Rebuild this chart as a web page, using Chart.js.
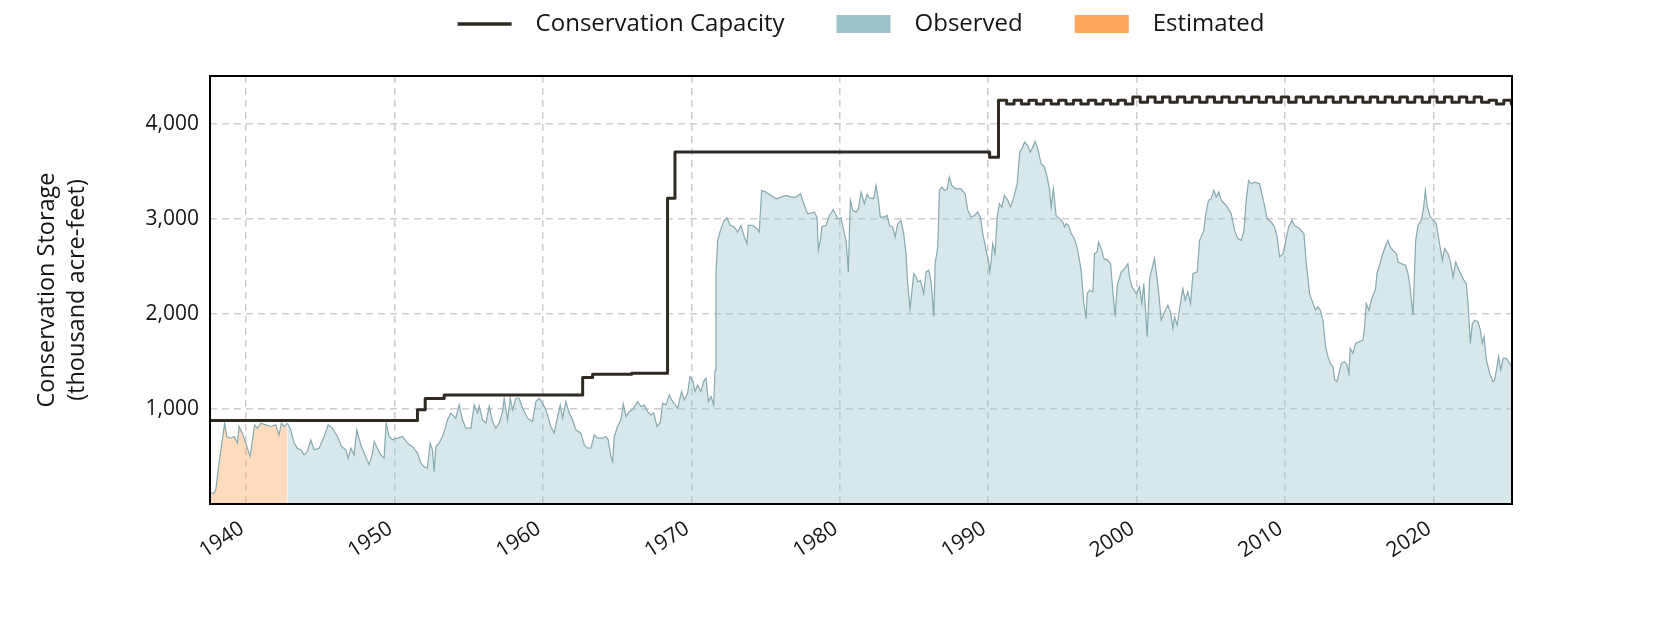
<!DOCTYPE html>
<html><head><meta charset="utf-8">
<script src="https://cdn.jsdelivr.net/npm/chart.js@4.4.1/dist/chart.umd.min.js"></script>
<style>html,body{margin:0;padding:0;background:#fff;}canvas{display:block;}</style>
</head><body>
<canvas id="c" width="1680" height="630"></canvas>
<script>
// ---- data ----
const seriesNames = ['Conservation Capacity', 'Observed', 'Estimated'];
const xTicks = [1940, 1950, 1960, 1970, 1980, 1990, 2000, 2010, 2020];
const yTicks = [1000, 2000, 3000, 4000];

const estYears = [1937.57,1937.84,1937.96,1938.18,1938.40,1938.56,1938.70,1938.97,1939.19,1939.42,1939.53,1939.75,1939.98,1940.27,1940.43,1940.58,1940.76,1940.99,1941.33,1941.66,1942.00,1942.22,1942.38,1942.56,1942.79];
const estValues = [115,115,150,430,675,850,710,692,710,640,815,745,640,500,675,832,797,850,832,815,832,727,850,815,850];

const obsYears = [1942.79,1943.01,1943.24,1943.46,1943.69,1943.91,1944.13,1944.36,1944.58,1944.92,1945.26,1945.53,1945.82,1946.16,1946.43,1946.72,1946.88,1947.06,1947.28,1947.46,1947.73,1947.96,1948.29,1948.52,1948.63,1948.85,1949.08,1949.30,1949.44,1949.64,1949.87,1950.20,1950.54,1950.88,1951.21,1951.55,1951.78,1952.00,
1952.22,1952.40,1952.56,1952.67,1952.79,1953.01,1953.24,1953.39,1953.57,1953.80,1954.13,1954.36,1954.58,1954.81,1955.15,1955.37,1955.60,1955.71,1955.93,1956.16,1956.38,1956.61,1956.83,1957.06,1957.28,1957.39,1957.62,1957.80,1957.96,1958.18,1958.40,1958.63,1958.97,1959.30,1959.53,1959.75,1959.98,1960.20,1960.54,1960.76,1960.99,1961.17,1961.33,1961.55,1961.78,1962.00,1962.22,1962.56,1962.79,1963.01,1963.24,1963.46,1963.69,1964.02,1964.25,1964.40,1964.58,1964.70,1964.81,1965.03,1965.26,1965.42,1965.60,1965.82,1966.04,1966.38,1966.61,1966.83,
1967.06,1967.28,1967.46,1967.69,1967.91,1968.07,1968.29,1968.52,1968.67,1968.85,1969.08,1969.35,1969.53,1969.75,1969.91,1970.09,1970.25,1970.43,1970.65,1970.83,1970.99,1971.15,1971.33,1971.51,1971.60,1971.66,1971.78,1971.96,1972.22,1972.40,1972.63,1972.90,1973.12,1973.35,1973.57,1973.75,1973.84,1974.13,1974.43,1974.58,1974.74,1975.03,1975.37,1975.71,1976.04,1976.38,1976.72,1977.06,1977.35,1977.62,1977.84,1978.29,1978.47,1978.56,1978.70,1978.79,1979.08,1979.30,1979.57,1979.87,1980.09,1980.31,1980.43,1980.58,1980.72,1980.88,1981.10,1981.26,1981.44,1981.66,
1981.84,1982.00,1982.29,1982.45,1982.61,1982.74,1982.97,1983.19,1983.35,1983.57,1983.73,1983.91,1984.13,1984.31,1984.47,1984.58,1984.74,1984.85,1984.99,1985.15,1985.26,1985.44,1985.66,1985.82,1986.00,1986.16,1986.34,1986.43,1986.61,1986.72,1986.88,1987.06,1987.24,1987.39,1987.55,1987.84,1988.18,1988.45,1988.63,1988.85,1989.08,1989.30,1989.48,1989.64,1989.87,1990.02,1990.11,1990.20,1990.31,1990.47,1990.61,1990.76,1990.92,1991.10,1991.33,1991.51,1991.73,1991.96,1992.13,1992.27,1992.45,1992.67,1992.83,1993.01,1993.17,1993.35,1993.57,1993.80,1993.98,1994.13,1994.25,1994.40,1994.58,1994.81,1995.03,1995.15,1995.26,1995.42,1995.60,1995.82,1996.04,1996.27,1996.45,
1996.61,1996.67,1996.83,1997.06,1997.17,1997.35,1997.44,1997.62,1997.80,1998.07,1998.25,1998.40,1998.56,1998.70,1998.97,1999.19,1999.42,1999.53,1999.69,1999.98,2000.20,2000.36,2000.49,2000.72,2000.88,2001.21,2001.48,2001.66,2001.89,2002.11,2002.29,2002.45,2002.56,2002.74,2002.90,2003.12,2003.28,2003.46,2003.64,2003.80,2004.09,2004.25,2004.54,2004.63,2004.85,2005.03,2005.21,2005.37,2005.53,2005.71,2006.04,2006.38,2006.61,2006.83,2007.06,2007.24,2007.39,2007.55,2007.73,2007.96,2008.29,2008.52,2008.81,2009.08,2009.30,2009.48,2009.64,2009.87,2010.09,2010.25,2010.47,2010.65,2010.99,2011.28,
2011.44,2011.66,2011.89,2012.07,2012.22,2012.38,2012.56,2012.74,2012.90,2013.06,2013.24,2013.35,2013.51,2013.64,2013.80,2014.02,2014.18,2014.31,2014.40,2014.58,2014.76,2014.99,2015.26,2015.37,2015.48,2015.66,2015.82,2015.98,2016.11,2016.20,2016.38,2016.56,2016.79,2016.94,2017.10,2017.28,2017.51,2017.62,2017.84,2018.13,2018.29,2018.40,2018.63,2018.81,2018.97,2019.19,2019.35,2019.46,2019.60,2019.80,2020.02,2020.20,2020.38,2020.61,2020.76,2020.99,2021.15,2021.33,2021.51,2021.73,2022.00,2022.22,2022.34,2022.49,2022.63,2022.79,2023.01,2023.17,2023.30,2023.42,2023.57,2023.80,2024.02,2024.13,2024.29,2024.40,2024.54,2024.70,2024.92,2025.15,2025.28];
const obsValues = [850,780,640,587,570,517,552,675,570,587,710,832,797,710,605,570,482,587,517,780,622,535,412,535,657,587,517,482,850,710,675,692,710,640,605,535,430,390,
378,640,570,343,605,640,710,780,885,955,902,1042,885,797,797,1042,955,1032,885,850,1025,867,797,850,972,1112,885,1112,990,1112,1112,1007,902,867,1077,1112,1060,990,815,745,920,1042,902,1077,955,885,780,745,622,587,587,727,692,692,710,675,500,447,710,815,885,1052,920,972,990,1077,1025,1040,
972,937,960,815,855,1059,1042,1147,1094,1059,1007,1182,1094,1164,1339,1304,1182,1252,1182,1287,1322,1077,1129,1042,1409,2423,2772,2877,2982,3010,2929,2912,2859,2929,2807,2737,2929,2929,2894,2859,3296,3279,3244,3209,3227,3244,3227,3227,3262,3139,3052,3069,3017,2667,2772,2912,2929,3034,3094,2999,3010,2842,2772,2440,3192,3087,3069,3104,3279,3157,
3255,3220,3210,3349,3192,3017,3017,3034,2929,2912,2807,2947,2982,2842,2632,2317,2055,2212,2422,2387,2335,2352,2212,2440,2457,2335,1968,2527,2702,3297,3332,3297,3314,3437,3349,3314,3314,3262,3087,3017,3034,3069,3017,2842,2667,2562,2440,2545,2737,2632,3017,3157,3122,3244,3192,3122,3227,3367,3699,3734,3804,3769,3699,3752,3815,3734,3577,3542,3437,3314,3122,3314,3034,3000,2965,2912,2947,2929,2842,2790,2667,2457,2108,
1951,2212,2248,2230,2632,2650,2755,2685,2580,2562,2527,2248,1968,2300,2440,2475,2527,2387,2283,2212,2283,2108,2317,1758,2370,2580,2248,1933,2020,2090,2020,1846,1968,1881,2055,2265,2143,2230,2108,2422,2440,2772,2877,3017,3192,3210,3297,3227,3279,3192,3139,3052,2877,2790,2772,2877,3192,3402,3367,3384,3367,3210,3000,2965,2912,2807,2597,2632,2790,2912,2982,2929,2894,2842,
2527,2212,2108,2038,2073,2038,1933,1653,1549,1479,1444,1304,1286,1374,1479,1496,1461,1374,1636,1584,1689,1706,1724,1864,2108,2038,2143,2212,2265,2422,2510,2615,2720,2772,2702,2667,2632,2545,2527,2510,2422,2317,1986,2772,2930,2982,3122,3297,3122,3017,2982,2947,2772,2562,2685,2632,2545,2387,2545,2457,2370,2317,2108,1689,1899,1933,1916,1829,1689,1759,1514,1374,1286,1304,1444,1549,1409,1531,1531,1479,1444];

// capacity: each point is the value that starts at that date (step line)
const capYears = [1937.57,1951.55,1952.07,1953.35,1962.68,1963.35,1965.98,1968.40,1968.90,1990.10,1990.70,
1991.25,1991.75,1992.25,1992.75,1993.25,1993.75,1994.25,1994.75,1995.25,1995.75,1996.25,1996.75,1997.25,1997.75,1998.25,1998.75,1999.25,1999.75,
2000.25,2000.75,2001.25,2001.75,2002.25,2002.75,2003.25,2003.75,2004.25,2004.75,2005.25,2005.75,2006.25,2006.75,2007.25,2007.75,2008.25,2008.75,2009.25,2009.75,2010.25,2010.75,2011.25,2011.75,2012.25,2012.75,2013.25,2013.75,2014.25,2014.75,2015.25,2015.75,2016.25,2016.75,2017.25,2017.75,2018.25,2018.75,2019.25,2019.75,2020.25,2020.75,2021.25,2021.75,2022.25,2022.75,2023.25,2023.75,2024.25,2024.75,2025.25,2025.30];
const capValues = [877,990,1108,1147,1329,1364,1375,3215,3700,3647,4245,
4205,4245,4205,4245,4205,4245,4205,4245,4205,4245,4205,4245,4205,4245,4205,4245,4205,4280,
4225,4280,4225,4280,4225,4280,4225,4280,4225,4280,4225,4280,4225,4280,4225,4280,4225,4280,4225,4280,4225,4280,4225,4280,4225,4280,4225,4280,4225,4280,4225,4280,4225,4280,4225,4280,4225,4280,4225,4280,4225,4280,4225,4280,4225,4280,4225,4245,4205,4245,4205,4205];

// ---- chart ----
const FONT = "'Open Sans', 'DejaVu Sans', sans-serif";
const TEXT = '#141414';
const toXY = (xs, ys) => xs.map((x, i) => ({ x: x, y: ys[i] }));

const framePlugin = {
  id: 'frame',
  afterDraw(chart) {
    const { ctx, chartArea: a } = chart;
    ctx.save();
    ctx.strokeStyle = '#000';
    ctx.lineWidth = 2;
    ctx.strokeRect(a.left, a.top, a.right - a.left, a.bottom - a.top);
    ctx.restore();
  }
};
const legendHeightPlugin = {
  id: 'legendHeight',
  beforeInit(chart) {
    const fit = chart.legend.fit;
    chart.legend.fit = function () { fit.call(this); this.height = 76; };
  }
};

new Chart(document.getElementById('c'), {
  type: 'line',
  data: {
    datasets: [
      { label: seriesNames[0], data: toXY(capYears, capValues), stepped: 'before',
        borderColor: '#2f2b23', borderWidth: 3, borderJoinStyle: 'round', pointRadius: 0, fill: false },
      { label: seriesNames[1], data: toXY(obsYears, obsValues), borderColor: '#86aab1', borderWidth: 1.2,
        backgroundColor: 'rgba(158,196,203,0.4)', fill: 'origin', pointRadius: 0, tension: 0 },
      { label: seriesNames[2], data: toXY(estYears, estValues), borderColor: '#86aab1', borderWidth: 1.2,
        backgroundColor: 'rgba(255,167,92,0.4)', fill: 'origin', pointRadius: 0, tension: 0 }
    ]
  },
  options: {
    responsive: false,
    animation: false,
    devicePixelRatio: 1,
    layout: { padding: { left: 0, right: 168, top: 0, bottom: 0 } },
    plugins: {
      tooltip: { enabled: false },
      legend: {
        position: 'top',
        fullSize: false,
        align: 'center',
        labels: {
          usePointStyle: true,
          pointStyleWidth: 54,
          boxHeight: 18,
          padding: 12,
          color: TEXT,
          font: { family: FONT, size: 24 },
          generateLabels: () => [
            { text: '\u2002' + seriesNames[0] + '\u2003\u2002\u2009', pointStyle: 'line', strokeStyle: '#2f2b23', fillStyle: '#2f2b23', lineWidth: 3.5, hidden: false, datasetIndex: 0, fontColor: TEXT },
            { text: '\u2002' + seriesNames[1] + '\u2003\u2002\u2009', pointStyle: 'rect', strokeStyle: '#9ec4cb', fillStyle: '#9ec4cb', lineWidth: 0, hidden: false, datasetIndex: 1, fontColor: TEXT },
            { text: '\u2002' + seriesNames[2], pointStyle: 'rect', strokeStyle: '#ffa75c', fillStyle: '#ffa75c', lineWidth: 0, hidden: false, datasetIndex: 2, fontColor: TEXT }
          ]
        }
      }
    },
    scales: {
      x: {
        type: 'linear', min: 1937.57, max: 2025.3,
        afterBuildTicks: s => { s.ticks = xTicks.map(v => ({ value: v })); },
        afterFit: s => { s.height = 126; },
        ticks: { autoSkip: false, minRotation: 33, maxRotation: 33, padding: 12, labelOffset: -4, color: TEXT,
          font: { family: FONT, size: 21 }, callback: v => String(v) },
        grid: { color: '#cdcdcd', lineWidth: 1.5, drawTicks: false },
        border: { display: false, dash: [7, 5] }
      },
      y: {
        min: 0, max: 4500,
        afterBuildTicks: s => { s.ticks = yTicks.map(v => ({ value: v })); },
        afterFit: s => { s.width = 210; },
        ticks: { padding: 11, color: TEXT, font: { family: FONT, size: 21 },
          callback: v => Number(v).toLocaleString('en-US') },
        grid: { color: '#cdcdcd', lineWidth: 1.5, drawTicks: false },
        border: { display: false, dash: [7, 5] },
        title: { display: true, text: ['Conservation Storage', '(thousand acre-feet)'], color: TEXT,
          font: { family: FONT, size: 23.5, lineHeight: 1.25 }, padding: { top: 33, bottom: 0 } }
      }
    }
  },
  plugins: [framePlugin, legendHeightPlugin]
});
</script>
</body></html>
